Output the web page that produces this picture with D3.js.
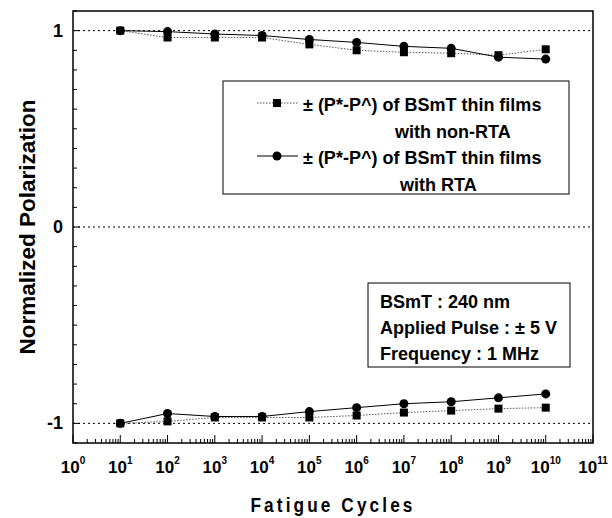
<!DOCTYPE html>
<meta charset="utf-8">
<script src="https://d3js.org/d3.v7.min.js"></script>
<style>
  body { margin: 0; background: #fff; }
  text { font-family: "Liberation Sans", Arial, sans-serif; font-weight: bold; fill: #000; }
</style>
<svg id="chart" width="612" height="518"></svg>
<script>

// fatigue cycles (decades)
var cycles = [1e1, 1e2, 1e3, 1e4, 1e5, 1e6, 1e7, 1e8, 1e9, 1e10]

// non-RTA (squares), +P and -P branches
var nonRtaUp   = [1.00, 0.965, 0.965, 0.965, 0.93, 0.90, 0.89, 0.885, 0.875, 0.905]
var nonRtaDown = [-1.00, -0.99, -0.97, -0.97, -0.97, -0.96, -0.945, -0.935, -0.925, -0.92]
// RTA (circles)
var rtaUp   = [1.00, 0.995, 0.983, 0.975, 0.955, 0.94, 0.92, 0.91, 0.865, 0.855]
var rtaDown = [-1.00, -0.95, -0.965, -0.965, -0.94, -0.92, -0.90, -0.89, -0.87, -0.85]

var xTickExps = [0,1,2,3,4,5,6,7,8,9,10,11]
var yTickLabels = [1, 0, -1]
var legendLabels = [["± (P*-P^) of BSmT thin films", "with non-RTA"],
                    ["± (P*-P^) of BSmT thin films", "with RTA"]]
var infoLines = ["BSmT : 240 nm", "Applied Pulse : ± 5 V", "Frequency : 1 MHz"]

var svg = d3.select("#chart")
var pLeft = 73, pRight = 593, pTop = 11, pBottom = 443

var x = d3.scaleLog().domain([1, 1e11]).range([pLeft, pRight])
var y = d3.scaleLinear().domain([-1.1, 1.1]).range([pBottom, pTop])

// dotted reference lines at 1, 0, -1
svg.append("g")
  .selectAll("line")
  .data(yTickLabels)
  .join("line")
    .attr("x1", pLeft).attr("x2", pRight)
    .attr("y1", function(d){ return y(d) }).attr("y2", function(d){ return y(d) })
    .attr("stroke", "#000")
    .attr("stroke-width", 1)
    .attr("stroke-dasharray", "2,3")

// frame
svg.append("rect")
  .attr("x", pLeft).attr("y", pTop)
  .attr("width", pRight - pLeft).attr("height", pBottom - pTop)
  .attr("fill", "none").attr("stroke", "#000").attr("stroke-width", 1.5)

// y ticks (inward)
var yMinor = d3.range(-11, 12).map(function(d){ return d / 10 })
svg.append("g")
  .selectAll("line")
  .data(yMinor)
  .join("line")
    .attr("x1", pLeft)
    .attr("x2", function(d){ return pLeft + (Math.abs(Math.round(d * 10)) % 10 === 0 ? 7 : 4) })
    .attr("y1", function(d){ return y(d) }).attr("y2", function(d){ return y(d) })
    .attr("stroke", "#000")

svg.append("g")
  .selectAll("text")
  .data(yTickLabels)
  .join("text")
    .attr("x", 63)
    .attr("y", function(d){ return y(d) + 6 })
    .attr("text-anchor", "end")
    .style("font-size", "18px")
    .text(function(d){ return d })

// x ticks (inward, log minor)
var xMinor = []
for (var e = 0; e < 11; e++) {
  for (var m = 1; m < 10; m++) xMinor.push(m * Math.pow(10, e))
}
xMinor.push(1e11)
svg.append("g")
  .selectAll("line")
  .data(xMinor)
  .join("line")
    .attr("x1", function(d){ return x(d) }).attr("x2", function(d){ return x(d) })
    .attr("y1", pBottom)
    .attr("y2", function(d){
      var l = Math.log10(d)
      return pBottom - (Math.abs(l - Math.round(l)) < 1e-9 ? 8 : 4)
    })
    .attr("stroke", "#000")

var xl = svg.append("g")
  .selectAll("text")
  .data(xTickExps)
  .join("text")
    .attr("x", function(d){ return x(Math.pow(10, d)) })
    .attr("y", 473)
    .attr("text-anchor", "middle")
    .style("font-size", "17px")
xl.append("tspan").text("10")
xl.append("tspan")
  .attr("dy", -9)
  .style("font-size", "10px")
  .text(function(d){ return d })

// series lines
function drawLine(vals, dashed) {
  svg.append("path")
    .datum(cycles.map(function(c, i){ return [c, vals[i]] }))
    .attr("fill", "none")
    .attr("stroke", dashed ? "#555" : "#000")
    .attr("stroke-width", 1)
    .attr("stroke-dasharray", dashed ? "1.5,1.5" : null)
    .attr("d", d3.line()
      .x(function(d){ return x(d[0]) })
      .y(function(d){ return y(d[1]) }))
}
drawLine(nonRtaUp, true)
drawLine(nonRtaDown, true)
drawLine(rtaUp, false)
drawLine(rtaDown, false)

function drawSquares(vals) {
  svg.append("g")
    .selectAll("rect")
    .data(vals)
    .join("rect")
      .attr("x", function(d, i){ return x(cycles[i]) - 4 })
      .attr("y", function(d){ return y(d) - 4 })
      .attr("width", 8).attr("height", 8)
      .attr("fill", "#000")
}
function drawCircles(vals) {
  svg.append("g")
    .selectAll("circle")
    .data(vals)
    .join("circle")
      .attr("cx", function(d, i){ return x(cycles[i]) })
      .attr("cy", function(d){ return y(d) })
      .attr("r", 4.5)
      .attr("fill", "#000")
}
drawSquares(nonRtaUp)
drawSquares(nonRtaDown)
drawCircles(rtaUp)
drawCircles(rtaDown)

// legend
var lg = svg.append("g")
lg.append("rect")
  .attr("x", 223).attr("y", 81).attr("width", 346).attr("height", 113)
  .attr("fill", "#fff").attr("stroke", "#000").attr("stroke-width", 1)
var legendY = [103, 156]
legendLabels.forEach(function(lbl, i) {
  var ly = legendY[i]
  lg.append("line")
    .attr("x1", 257).attr("x2", 298).attr("y1", ly).attr("y2", ly)
    .attr("stroke", i === 0 ? "#555" : "#000")
    .attr("stroke-dasharray", i === 0 ? "1.5,1.5" : null)
  if (i === 0) {
    lg.append("rect").attr("x", 273).attr("y", ly - 4).attr("width", 8).attr("height", 8).attr("fill", "#000")
  } else {
    lg.append("circle").attr("cx", 277).attr("cy", ly).attr("r", 4.5).attr("fill", "#000")
  }
  lg.append("text").attr("x", 303).attr("y", ly + 8)
    .style("font-size", "18px").text(lbl[0])
  lg.append("text").attr("x", i === 0 ? 395 : 400).attr("y", ly + 35)
    .style("font-size", "18px").text(lbl[1])
})

// info box
var ib = svg.append("g")
ib.append("rect")
  .attr("x", 368).attr("y", 283).attr("width", 202).attr("height", 84)
  .attr("fill", "#fff").attr("stroke", "#000").attr("stroke-width", 1)
ib.selectAll("text")
  .data(infoLines)
  .join("text")
    .attr("x", 380)
    .attr("y", function(d, i){ return 308 + i * 26 })
    .style("font-size", "18px")
    .text(function(d){ return d })

// axis titles
svg.append("text")
  .attr("transform", "translate(35," + ((pTop + pBottom) / 2) + ") rotate(-90)")
  .attr("text-anchor", "middle")
  .style("font-size", "22.5px")
  .text("Normalized Polarization")

svg.append("text")
  .attr("transform", "translate(333,512) scale(0.82,1)")
  .attr("text-anchor", "middle")
  .style("font-size", "21px")
  .style("letter-spacing", "3.8px")
  .text("Fatigue Cycles")

</script>
